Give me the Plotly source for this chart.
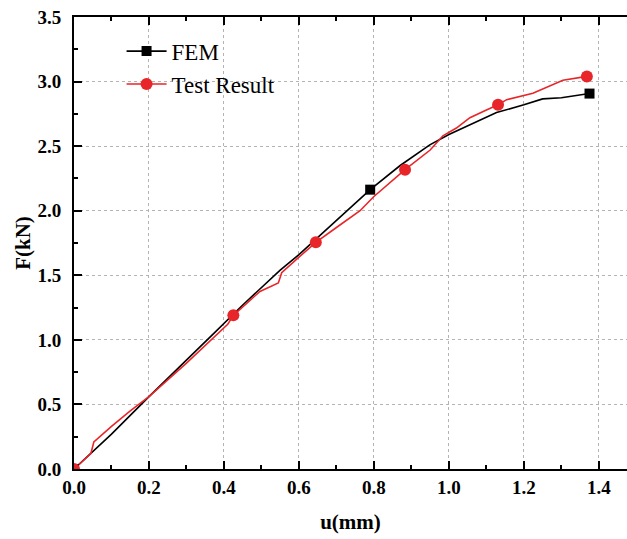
import plotly.graph_objects as go

# FEM curve (u in mm, F in kN)
fem_u = [0.0, 0.045, 0.1, 0.2, 0.3, 0.373, 0.45, 0.55, 0.6, 0.683, 0.79, 0.87, 0.949, 1.0, 1.083, 1.127, 1.2, 1.25, 1.3, 1.375]
fem_f = [0.0, 0.12, 0.27, 0.56, 0.84, 1.05, 1.27, 1.54, 1.66, 1.88, 2.163, 2.35, 2.51, 2.59, 2.705, 2.76, 2.82, 2.866, 2.875, 2.907]
fem_mark = [0.0, 0.79, 1.375]
fem_mark_f = [0.0, 2.163, 2.907]

# Test result curve
test_u = [0.0, 0.045, 0.053, 0.1, 0.15, 0.2, 0.3, 0.389, 0.41, 0.425, 0.496, 0.545, 0.554, 0.6, 0.645, 0.7, 0.763, 0.8, 0.883, 0.95, 0.984, 1.02, 1.056, 1.1, 1.131, 1.154, 1.224, 1.304, 1.368]
test_f = [0.0, 0.12, 0.21, 0.33, 0.45, 0.56, 0.82, 1.06, 1.12, 1.19, 1.375, 1.44, 1.52, 1.64, 1.755, 1.87, 2.0, 2.11, 2.318, 2.47, 2.58, 2.64, 2.72, 2.78, 2.82, 2.86, 2.91, 3.01, 3.04]
test_mark = [0.0, 0.425, 0.645, 0.883, 1.131, 1.368]
test_mark_f = [0.0, 1.19, 1.755, 2.318, 2.82, 3.04]

x_ticks = [0.0, 0.2, 0.4, 0.6, 0.8, 1.0, 1.2, 1.4]
y_ticks = [0.0, 0.5, 1.0, 1.5, 2.0, 2.5, 3.0, 3.5]

BLACK = "#000000"
RED = "#E8262A"

fig = go.Figure()
fig.add_trace(go.Scatter(x=fem_u, y=fem_f, mode="lines", line=dict(color=BLACK, width=1.6), showlegend=False))
fig.add_trace(go.Scatter(x=test_u, y=test_f, mode="lines", line=dict(color=RED, width=1.6), showlegend=False))
fig.add_trace(go.Scatter(x=fem_mark, y=fem_mark_f, mode="markers",
                         marker=dict(symbol="square", size=10, color=BLACK), showlegend=False))
fig.add_trace(go.Scatter(x=test_mark, y=test_mark_f, mode="markers",
                         marker=dict(symbol="circle", size=12, color=RED), showlegend=False))
# legend entries
fig.add_trace(go.Scatter(x=[None], y=[None], mode="lines+markers", name="FEM",
                         line=dict(color=BLACK, width=1.6), marker=dict(symbol="square", size=10, color=BLACK)))
fig.add_trace(go.Scatter(x=[None], y=[None], mode="lines+markers", name="Test Result",
                         line=dict(color="#EE5A5E", width=2), marker=dict(symbol="circle", size=12, color=RED)))

FONT = "Liberation Serif"
GRID = "#B4B4B4"
fig.update_layout(
    width=627, height=539,
    margin=dict(l=74, r=0, t=17, b=70),
    paper_bgcolor="white", plot_bgcolor="white",
    font=dict(family=FONT, color="black"),
    legend=dict(x=0.086, y=0.972, xanchor="left", yanchor="top",
                font=dict(family=FONT, size=23, color="black"),
                bgcolor="rgba(0,0,0,0)", tracegroupgap=0, itemwidth=40),
)
fig.update_xaxes(
    range=[0, 1.475], tickvals=x_ticks, ticktext=[f"{v:.1f}" for v in x_ticks],
    showline=True, linecolor="black", linewidth=1.8, mirror="ticks",
    ticks="inside", ticklen=8, tickwidth=1.5, tickcolor="black",
    minor=dict(ticks="inside", ticklen=4, dtick=0.1, tick0=0, tickcolor="black", tickwidth=1.5, showgrid=False),
    showgrid=True, gridcolor=GRID, griddash="3px,3px", gridwidth=1,
    zeroline=False,
    tickfont=dict(family=FONT, size=19, weight="bold"),
    title=dict(text="u(mm)", font=dict(family=FONT, size=21, weight="bold"), standoff=18),
)
fig.update_yaxes(
    range=[0, 3.5], tickvals=y_ticks, ticktext=[f"{v:.1f}" for v in y_ticks],
    showline=True, linecolor="black", linewidth=1.8, mirror=False,
    ticks="inside", ticklen=8, tickwidth=1.5, tickcolor="black",
    minor=dict(ticks="inside", ticklen=4, dtick=0.25, tick0=0, tickcolor="black", tickwidth=1.5, showgrid=False),
    showgrid=True, gridcolor=GRID, griddash="3px,3px", gridwidth=1,
    zeroline=False, ticklabelstandoff=7,
    tickfont=dict(family=FONT, size=19, weight="bold"),
    title=dict(text="F(kN)", font=dict(family=FONT, size=21, weight="bold"), standoff=1),
)
fig.write_html("out.html")
